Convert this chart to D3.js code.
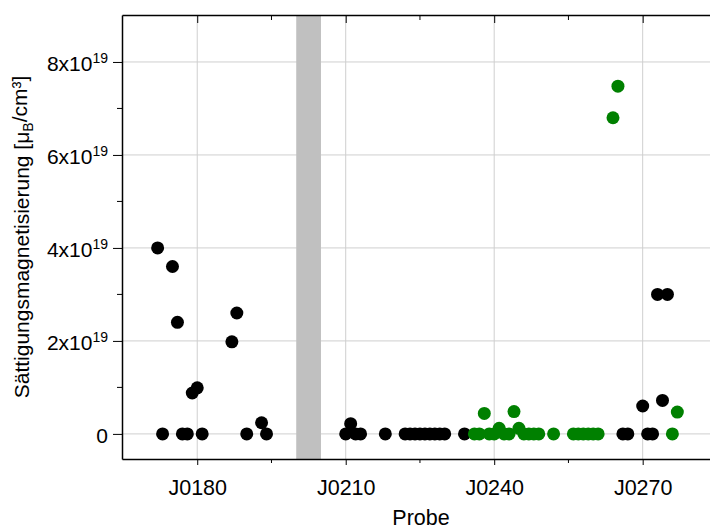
<!DOCTYPE html>
<html lang="de">
<head>
<meta charset="utf-8">
<title>Sättigungsmagnetisierung</title>
<script src="https://cdn.jsdelivr.net/npm/d3@7"></script>
<style>
  body { margin: 0; background: #fff; }
  text { font-family: "Liberation Sans", Arial, sans-serif; fill: #000; }
  .grid line { stroke: #cfcfcf; stroke-width: 1px; }
  .axis path, .axis line { stroke: #000; }
</style>
</head>
<body>
<script>
// probe numbers (J0xxx) and saturation magnetisation in units of 1e19
var blackProbe = [172, 173, 175, 176, 177, 178, 179, 180, 181, 187, 188, 190, 193, 194,
                  210, 211, 212, 213, 218, 222, 223, 224, 225, 226, 227, 228, 229, 230, 234,
                  266, 267, 270, 271, 272, 273, 274, 275];
var blackValue = [4.0, 0, 3.6, 2.4, 0, 0, 0.88, 0.99, 0, 1.98, 2.6, 0, 0.24, 0,
                  0, 0.22, 0, 0, 0, 0, 0, 0, 0, 0, 0, 0, 0, 0, 0,
                  0, 0, 0.6, 0, 0, 3.0, 0.72, 3.0];
var greenProbe = [236, 237, 238, 239, 240, 241, 242, 243, 244, 245, 246, 247, 248, 249, 252,
                  256, 257, 258, 259, 260, 261, 264, 265, 276, 277];
var greenValue = [0, 0, 0.44, 0, 0, 0.12, 0, 0, 0.48, 0.12, 0, 0, 0, 0, 0,
                  0, 0, 0, 0, 0, 0, 6.8, 7.48, 0, 0.47];
var xTicks = [180, 210, 240, 270];
var xMinor = [195, 225, 255];
var yTicks = [0, 2, 4, 6, 8];
var yMinor = [1, 3, 5, 7];
var gap = [200, 205];   // missing samples, grey band

var w = 710, h = 529;
var mLeft = 122, mTop = 15, mBottom = 459, mRight = 710;

var x = d3.scaleLinear().domain([164.8, 283.6]).range([mLeft, mRight]);
var y = d3.scaleLinear().domain([-0.54, 9.01]).range([mBottom, mTop]);

var svg = d3.select("body").append("svg")
    .attr("width", w)
    .attr("height", h);

// grid
var grid = svg.append("g").attr("class", "grid");
grid.selectAll(".gx").data(xTicks).enter().append("line")
    .attr("x1", function(d) { return x(d); })
    .attr("x2", function(d) { return x(d); })
    .attr("y1", mTop).attr("y2", mBottom);
grid.selectAll(".gy").data(yTicks).enter().append("line")
    .attr("x1", mLeft).attr("x2", mRight)
    .attr("y1", function(d) { return y(d); })
    .attr("y2", function(d) { return y(d); });

// grey band
svg.append("rect")
    .attr("x", x(gap[0]))
    .attr("width", x(gap[1]) - x(gap[0]))
    .attr("y", mTop)
    .attr("height", mBottom - mTop)
    .attr("fill", "#c0c0c0");

// axes
var xAxis = svg.append("g").attr("class", "axis")
    .attr("transform", "translate(0," + mBottom + ")")
    .call(d3.axisBottom(x).tickValues(xTicks).tickSize(6).tickSizeOuter(0)
      .tickPadding(15)
      .tickFormat(function(d) { return "J0" + d; }));
xAxis.append("g").selectAll("line").data(xMinor).enter().append("line")
    .attr("x1", function(d) { return x(d); })
    .attr("x2", function(d) { return x(d); })
    .attr("y1", 0).attr("y2", 4).attr("stroke", "#000");
xAxis.selectAll("text").style("font-size", "21.5px");

var xTop = svg.append("g").attr("class", "axis")
    .attr("transform", "translate(0," + mTop + ")")
    .call(d3.axisTop(x).tickValues(xTicks).tickSize(-8).tickSizeOuter(0).tickFormat(""));
xTop.append("g").selectAll("line").data(xMinor).enter().append("line")
    .attr("x1", function(d) { return x(d); })
    .attr("x2", function(d) { return x(d); })
    .attr("y1", 0).attr("y2", 5).attr("stroke", "#000");

var yAxis = svg.append("g").attr("class", "axis")
    .attr("transform", "translate(" + mLeft + ",0)")
    .call(d3.axisLeft(y).tickValues(yTicks).tickSize(9).tickSizeOuter(0).tickPadding(5)
      .tickFormat(function(d) { return d; }));
yAxis.append("g").selectAll("line").data(yMinor).enter().append("line")
    .attr("x1", -5).attr("x2", 0)
    .attr("y1", function(d) { return y(d); })
    .attr("y2", function(d) { return y(d); })
    .attr("stroke", "#000");
yAxis.selectAll(".tick text").each(function(d) {
  var t = d3.select(this).text("").style("font-size", "21px").attr("dy", "0.42em");
  if (d === 0) { t.text("0"); return; }
  t.append("tspan").text(d + "x10");
  t.append("tspan").attr("dy", "-0.6em").style("font-size", "14px").text("19");
});
svg.selectAll(".axis path").attr("stroke-width", 1.5);

// points
svg.append("g").selectAll("circle").data(blackProbe).enter().append("circle")
    .attr("cx", function(d) { return x(d); })
    .attr("cy", function(d, i) { return y(blackValue[i]); })
    .attr("r", 6.5)
    .attr("fill", "#000");
svg.append("g").selectAll("circle").data(greenProbe).enter().append("circle")
    .attr("cx", function(d) { return x(d); })
    .attr("cy", function(d, i) { return y(greenValue[i]); })
    .attr("r", 6.5)
    .attr("fill", "#008000");

// axis titles
svg.append("text")
    .attr("x", 421).attr("y", 525)
    .attr("text-anchor", "middle")
    .style("font-size", "21.5px")
    .text("Probe");

var yl = svg.append("text")
    .attr("transform", "translate(29," + ((mTop + mBottom) / 2) + ") rotate(-90)")
    .attr("text-anchor", "middle")
    .style("font-size", "21px");
yl.append("tspan").text("Sättigungsmagnetisierung [μ");
yl.append("tspan").attr("dy", "0.3em").style("font-size", "14px").text("B");
yl.append("tspan").attr("dy", "-0.3em").text("/cm³]");
</script>
</body>
</html>
